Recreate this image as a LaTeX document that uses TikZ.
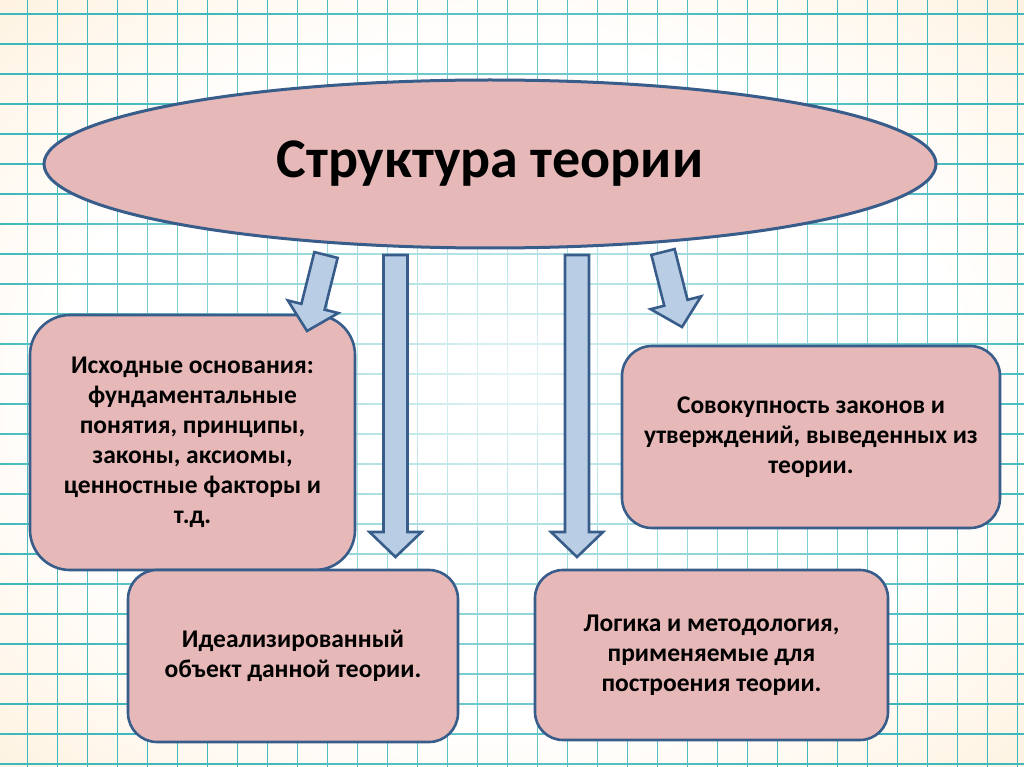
\documentclass[tikz,border=0pt]{standalone}
\usepackage{fontspec}
\setmainfont{Carlito}
\usetikzlibrary{shapes.geometric, calc, fadings}
\definecolor{boxpink}{RGB}{230,185,184}
\definecolor{edgeblue}{RGB}{56,93,138}
\definecolor{arrowblue}{RGB}{185,205,229}
\definecolor{gridteal}{RGB}{62,184,188}
\definecolor{paperpeach}{RGB}{254,234,204}
\tikzfading[name=paperfade, inner color=transparent!12, outer color=transparent!100]
\pgfdeclareradialshading{papershade}{\pgfpoint{0bp}{0bp}}{color(0bp)=(white); color(22bp)=(white); color(45bp)=(paperpeach); color(50bp)=(paperpeach)}

% block arrow from #1 (shaft end) to #2 (tip)
\newcommand\blockarrow[2]{%
  \coordinate (hb) at ($(#2)!25pt!(#1)$);
  \draw[arrowbody] ($(#1)!12pt!90:(#2)$) -- ($(hb)!12pt!90:(#2)$) -- ($(hb)!26pt!90:(#2)$) -- (#2)
    -- ($(hb)!26pt!-90:(#2)$) -- ($(hb)!12pt!-90:(#2)$) -- ($(#1)!12pt!-90:(#2)$) -- cycle;}

\begin{document}
\begin{tikzpicture}[
  x=1pt, y=-1pt,
  gridline/.style={gridteal, line width=1.6pt},
  box/.style={draw=edgeblue, fill=boxpink, line width=2.6pt, align=center, inner sep=0pt,
    font=\fontsize{25.5}{30}\selectfont\bfseries},
  rootell/.style={ellipse, draw=edgeblue, fill=boxpink, line width=3pt, inner sep=0pt,
    minimum width=892pt, minimum height=168pt, font=\fontsize{56}{64}\selectfont\bfseries},
  arrowbody/.style={draw=edgeblue, fill=arrowblue, line width=2.6pt, line join=miter},
]
\useasboundingbox (0,0) rectangle (1024,767);

% Paper background
\shade[shading=papershade] (0,0) rectangle (1024,767);
\foreach \x in {27.5,57.5,...,1017.5} \draw[gridline] (\x,0) -- (\x,767);
\foreach \y in {14,44,...,764} \draw[gridline] (0,\y) -- (1024,\y);
\fill[white, path fading=paperfade, fit fading=true] (-40,-60) rectangle (1064,827);

% Root
\node[rootell] (root) at (490,164) {Структура теории};

% Parts
\node[box, minimum width=325pt, minimum height=255pt, rounded corners=40pt] (basis) at (192.5,442.5)
  {Исходные основания:\\фундаментальные\\понятия, принципы,\\законы, аксиомы,\\ценностные факторы и\\т.д.};
\node[box, minimum width=378pt, minimum height=182pt, rounded corners=30pt] (laws) at (811,437)
  {Совокупность законов и\\утверждений, выведенных из\\теории.};
\node[box, minimum width=330pt, minimum height=172pt, rounded corners=29pt] (object) at (293,656)
  {Идеализированный\\объект данной теории.};
\node[box, minimum width=353pt, minimum height=170pt, rounded corners=28pt] (logic) at (711.5,655)
  {Логика и методология,\\применяемые для\\построения теории.};

% Arrow ends
\coordinate (a1s) at (326,255);   \coordinate (a1t) at (307,331);
\coordinate (a2s) at (395.5,255); \coordinate (a2t) at (395.5,557);
\coordinate (a3s) at (577,255);   \coordinate (a3t) at (577,557);
\coordinate (a4s) at (663,252);   \coordinate (a4t) at (682,327);

% Arrows root -> parts
\blockarrow{a1s}{a1t}
\blockarrow{a2s}{a2t}
\blockarrow{a3s}{a3t}
\blockarrow{a4s}{a4t}
\end{tikzpicture}
\end{document}
